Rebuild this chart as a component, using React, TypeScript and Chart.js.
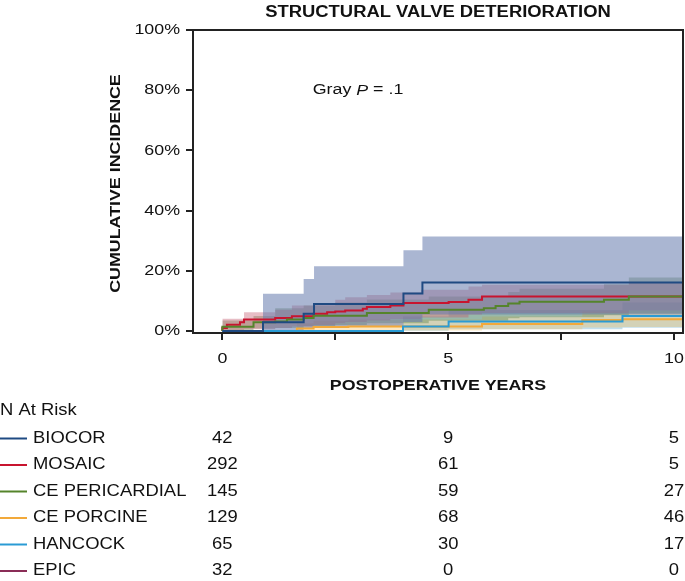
import React, { useEffect, useRef } from 'react';
import { Chart, registerables } from 'chart.js';
Chart.register(...registerables);

// ---------- data (years, cumulative incidence %) ----------
const biocorT = [0, 0.9, 1.8, 2.03, 4.01, 4.43, 10.2];
const biocorY = [0, 2.9, 5.7, 9.0, 12.5, 16.1, 16.1];
const biocorHi = [0, 12.4, 17.3, 21.5, 26.8, 31.4, 31.4];
const biocorLo = [0, 0.3, 0.8, 1.5, 3.0, 5.5, 5.5];

const mosaicT = [0, 0, 0.1, 0.39, 0.48, 1.17, 1.54, 2.02, 2.32, 2.5, 2.72, 3.11, 3.2, 3.72, 4.01, 5.01, 5.45, 5.75, 10.2];
const mosaicY = [0, 1.0, 2.1, 2.9, 3.8, 4.3, 4.9, 5.7, 6.2, 6.5, 6.8, 7.4, 8.0, 8.5, 9.3, 9.6, 10.4, 11.5, 11.5];
const mosaicBandT = [0, 0.48, 1.17, 1.54, 2.02, 2.5, 2.72, 3.2, 3.72, 4.4, 5.45, 5.75, 9.0, 10.2];
const mosaicHi = [4.1, 6.2, 7.1, 8.5, 9.3, 10.4, 11.2, 12.0, 12.8, 13.7, 14.8, 15.4, 16.2, 16.2];
const mosaicLo = [0.1, 0.6, 1.0, 1.5, 2.0, 2.6, 3.0, 3.5, 4.0, 4.5, 5.5, 6.0, 6.8, 6.8];

const periT = [0, 0, 0.69, 1.17, 1.43, 1.8, 2.02, 3.2, 4.57, 5.79, 6.05, 6.33, 6.58, 8.45, 9.0, 10.2];
const periY = [0, 1.4, 2.9, 3.2, 3.8, 4.3, 5.1, 6.0, 7.1, 7.6, 8.3, 9.1, 9.7, 10.4, 11.5, 11.5];
const periBandT = [0, 0.69, 1.17, 1.8, 2.5, 3.2, 4.57, 6.33, 6.58, 8.45, 9.0, 10.2];
const periHi = [3.5, 5.0, 7.6, 8.5, 9.5, 10.5, 11.5, 13.0, 14.0, 15.5, 17.8, 17.8];
const periLo = [0.2, 0.8, 1.0, 1.6, 2.0, 2.6, 3.4, 4.2, 4.6, 5.2, 5.8, 5.8];

const porcT = [0, 1.65, 2.02, 2.79, 5.75, 7.97, 8.86, 10.2];
const porcY = [0, 0.8, 1.3, 1.5, 2.3, 3.7, 3.9, 3.9];
const porcHi = [0, 2.6, 3.4, 3.8, 4.8, 6.5, 6.8, 6.8];
const porcLo = [0, 0, 0.1, 0.2, 0.6, 1.2, 1.3, 1.3];

const hanT = [0, 4.0, 5.01, 8.86, 10.2];
const hanY = [0, 1.5, 3.2, 5.0, 5.0];
const hanHi = [0, 4.8, 7.0, 9.5, 9.5];
const hanLo = [0, 0.1, 0.6, 1.1, 1.1];

const epicT = [0, 2.0];
const epicY = [0, 0];

// at-risk table
const riskYears = [0, 5, 10];
const riskNames = ['BIOCOR', 'MOSAIC', 'CE PERICARDIAL', 'CE PORCINE', 'HANCOCK', 'EPIC'];
const biocorRisk = [42, 9, 5];
const mosaicRisk = [292, 61, 5];
const periRisk = [145, 59, 27];
const porcRisk = [129, 68, 46];
const hanRisk = [65, 30, 17];
const epicRisk = [32, 0, 0];

const yTickValues = [0, 20, 40, 60, 80, 100];
const xTickValues = [0, 2.5, 5, 7.5, 10];
const xTickLabels = ['0', '', '5', '', '10'];

const COLORS: Record<string, string> = {
  BIOCOR: '#1f4a82',
  MOSAIC: '#c8142f',
  'CE PERICARDIAL': '#55842b',
  'CE PORCINE': '#f2a93a',
  HANCOCK: '#2a9bd4',
  EPIC: '#8a2d57',
};
const BANDS: Record<string, string> = {
  BIOCOR: 'rgba(100,122,173,0.55)',
  MOSAIC: 'rgba(195,90,110,0.4)',
  'CE PERICARDIAL': 'rgba(90,130,70,0.4)',
  'CE PORCINE': 'rgba(245,185,70,0.32)',
  HANCOCK: 'rgba(80,160,200,0.35)',
};

const FONT = '"Liberation Sans", Arial, Helvetica, sans-serif';
const SX = 1.15;

function pts(t: number[], v: number[]) {
  return t.map((x, i) => ({ x, y: v[i] }));
}

function txt(ctx: CanvasRenderingContext2D, text: string, x: number, y: number, font: string, align: CanvasTextAlign, rot = 0) {
  ctx.save();
  ctx.translate(x, y);
  if (rot) ctx.rotate(rot);
  ctx.scale(SX, 1);
  ctx.font = font;
  ctx.textAlign = align;
  ctx.textBaseline = 'middle';
  ctx.fillStyle = '#111';
  ctx.fillText(text, 0, 0);
  const w = ctx.measureText(text).width * SX;
  ctx.restore();
  return w;
}

const textPlugin = {
  id: 'texts',
  afterDraw(chart: any) {
    const ctx: CanvasRenderingContext2D = chart.ctx;
    const a = chart.chartArea;
    const xs = chart.scales.x;
    const ys = chart.scales.y;
    // frame top & right
    ctx.save();
    ctx.strokeStyle = '#222';
    ctx.lineWidth = 2;
    ctx.beginPath();
    ctx.moveTo(a.left, a.top);
    ctx.lineTo(a.right, a.top);
    ctx.lineTo(a.right, a.bottom);
    ctx.stroke();
    ctx.restore();

    // y tick labels
    yTickValues.forEach((v) => {
      txt(ctx, v + '%', a.left - 13, ys.getPixelForValue(v), `15.5px ${FONT}`, 'right');
    });
    // x tick labels
    xTickValues.forEach((v, i) => {
      if (xTickLabels[i]) txt(ctx, xTickLabels[i], xs.getPixelForValue(v), a.bottom + 26, `15.5px ${FONT}`, 'center');
    });
    const cx = (a.left + a.right) / 2;
    // titles
    txt(ctx, 'STRUCTURAL VALVE DETERIORATION', cx, 13, `bold 16px ${FONT}`, 'center');
    txt(ctx, 'POSTOPERATIVE YEARS', cx, a.bottom + 53, `bold 15.5px ${FONT}`, 'center');
    txt(ctx, 'CUMULATIVE INCIDENCE', 116, (a.top + a.bottom) / 2 + 2, `bold 15.5px ${FONT}`, 'center', -Math.PI / 2);

    // annotation
    let ax = xs.getPixelForValue(2);
    const ay = ys.getPixelForValue(80);
    ax += txt(ctx, 'Gray ', ax, ay, `15.5px ${FONT}`, 'left');
    ax += txt(ctx, 'P', ax, ay, `italic 15.5px ${FONT}`, 'left');
    txt(ctx, ' = .1', ax, ay, `15.5px ${FONT}`, 'left');

    // at-risk table
    txt(ctx, 'N At Risk', 0, 411, `16px ${FONT}`, 'left');
    const risks = [biocorRisk, mosaicRisk, periRisk, porcRisk, hanRisk, epicRisk];
    riskNames.forEach((name, i) => {
      const ry = 438.5 + i * 26.5;
      ctx.save();
      ctx.strokeStyle = COLORS[name];
      ctx.lineWidth = 2;
      ctx.beginPath();
      ctx.moveTo(0, ry);
      ctx.lineTo(27, ry);
      ctx.stroke();
      ctx.restore();
      txt(ctx, name, 33, ry, `16px ${FONT}`, 'left');
      riskYears.forEach((yr, j) => {
        txt(ctx, String(risks[i][j]), xs.getPixelForValue(yr), ry, `16px ${FONT}`, 'center');
      });
    });
  },
};

export default function App() {
  const ref = useRef<HTMLCanvasElement>(null);
  useEffect(() => {
    const lineDs = (name: string, t: number[], v: number[]) => ({
      label: name,
      data: pts(t, v),
      borderColor: COLORS[name],
      borderWidth: 2,
      pointRadius: 0,
      stepped: true,
      fill: false,
    });
    const bandDs = (name: string, t: number[], hi: number[], lo: number[]) => [
      {
        label: name + ' hi',
        data: pts(t, hi),
        borderColor: 'rgba(0,0,0,0)',
        borderWidth: 0,
        pointRadius: 0,
        stepped: true,
        fill: '+1',
        backgroundColor: BANDS[name],
      },
      {
        label: name + ' lo',
        data: pts(t, lo),
        borderColor: 'rgba(0,0,0,0)',
        borderWidth: 0,
        pointRadius: 0,
        stepped: true,
        fill: false,
      },
    ];
    const datasets: any[] = [
      lineDs('BIOCOR', biocorT, biocorY),
      lineDs('CE PERICARDIAL', periT, periY),
      lineDs('MOSAIC', mosaicT, mosaicY),
      lineDs('HANCOCK', hanT, hanY),
      lineDs('CE PORCINE', porcT, porcY),
      lineDs('EPIC', epicT, epicY),
      ...bandDs('BIOCOR', biocorT, biocorHi, biocorLo),
      ...bandDs('MOSAIC', mosaicBandT, mosaicHi, mosaicLo),
      ...bandDs('CE PERICARDIAL', periBandT, periHi, periLo),
      ...bandDs('CE PORCINE', porcT, porcHi, porcLo),
      ...bandDs('HANCOCK', hanT, hanHi, hanLo),
    ];
    const chart = new Chart(ref.current as HTMLCanvasElement, {
      type: 'line',
      data: { datasets },
      options: {
        responsive: false,
        devicePixelRatio: 1,
        animation: false,
        layout: { padding: { top: 30, right: 2, left: 0, bottom: 0 } },
        plugins: {
          legend: { display: false },
          tooltip: { enabled: false },
          filler: { drawTime: 'beforeDatasetsDraw' },
        } as any,
        scales: {
          x: {
            type: 'linear',
            min: -0.65,
            max: 10.2,
            ticks: { display: false },
            afterBuildTicks: (s: any) => {
              s.ticks = xTickValues.map((v) => ({ value: v }));
            },
            afterFit: (s: any) => {
              s.height = 248;
            },
            grid: { display: true, drawOnChartArea: false, drawTicks: true, tickLength: 7, color: '#222', lineWidth: 2 },
            border: { display: true, color: '#222', width: 2 },
          },
          y: {
            type: 'linear',
            min: -0.66,
            max: 100,
            ticks: { display: false },
            afterBuildTicks: (s: any) => {
              s.ticks = yTickValues.map((v) => ({ value: v }));
            },
            afterFit: (s: any) => {
              s.width = 193;
            },
            grid: { display: true, drawOnChartArea: false, drawTicks: true, tickLength: 7, color: '#222', lineWidth: 2 },
            border: { display: true, color: '#222', width: 2 },
          },
        },
      } as any,
      plugins: [textPlugin],
    });
    return () => chart.destroy();
  }, []);
  return (
    <div style={{ position: 'absolute', left: 0, top: 0, width: 685, height: 581, background: '#fff' }}>
      <canvas ref={ref} width={685} height={581} style={{ display: 'block', width: 685, height: 581 }} />
    </div>
  );
}
